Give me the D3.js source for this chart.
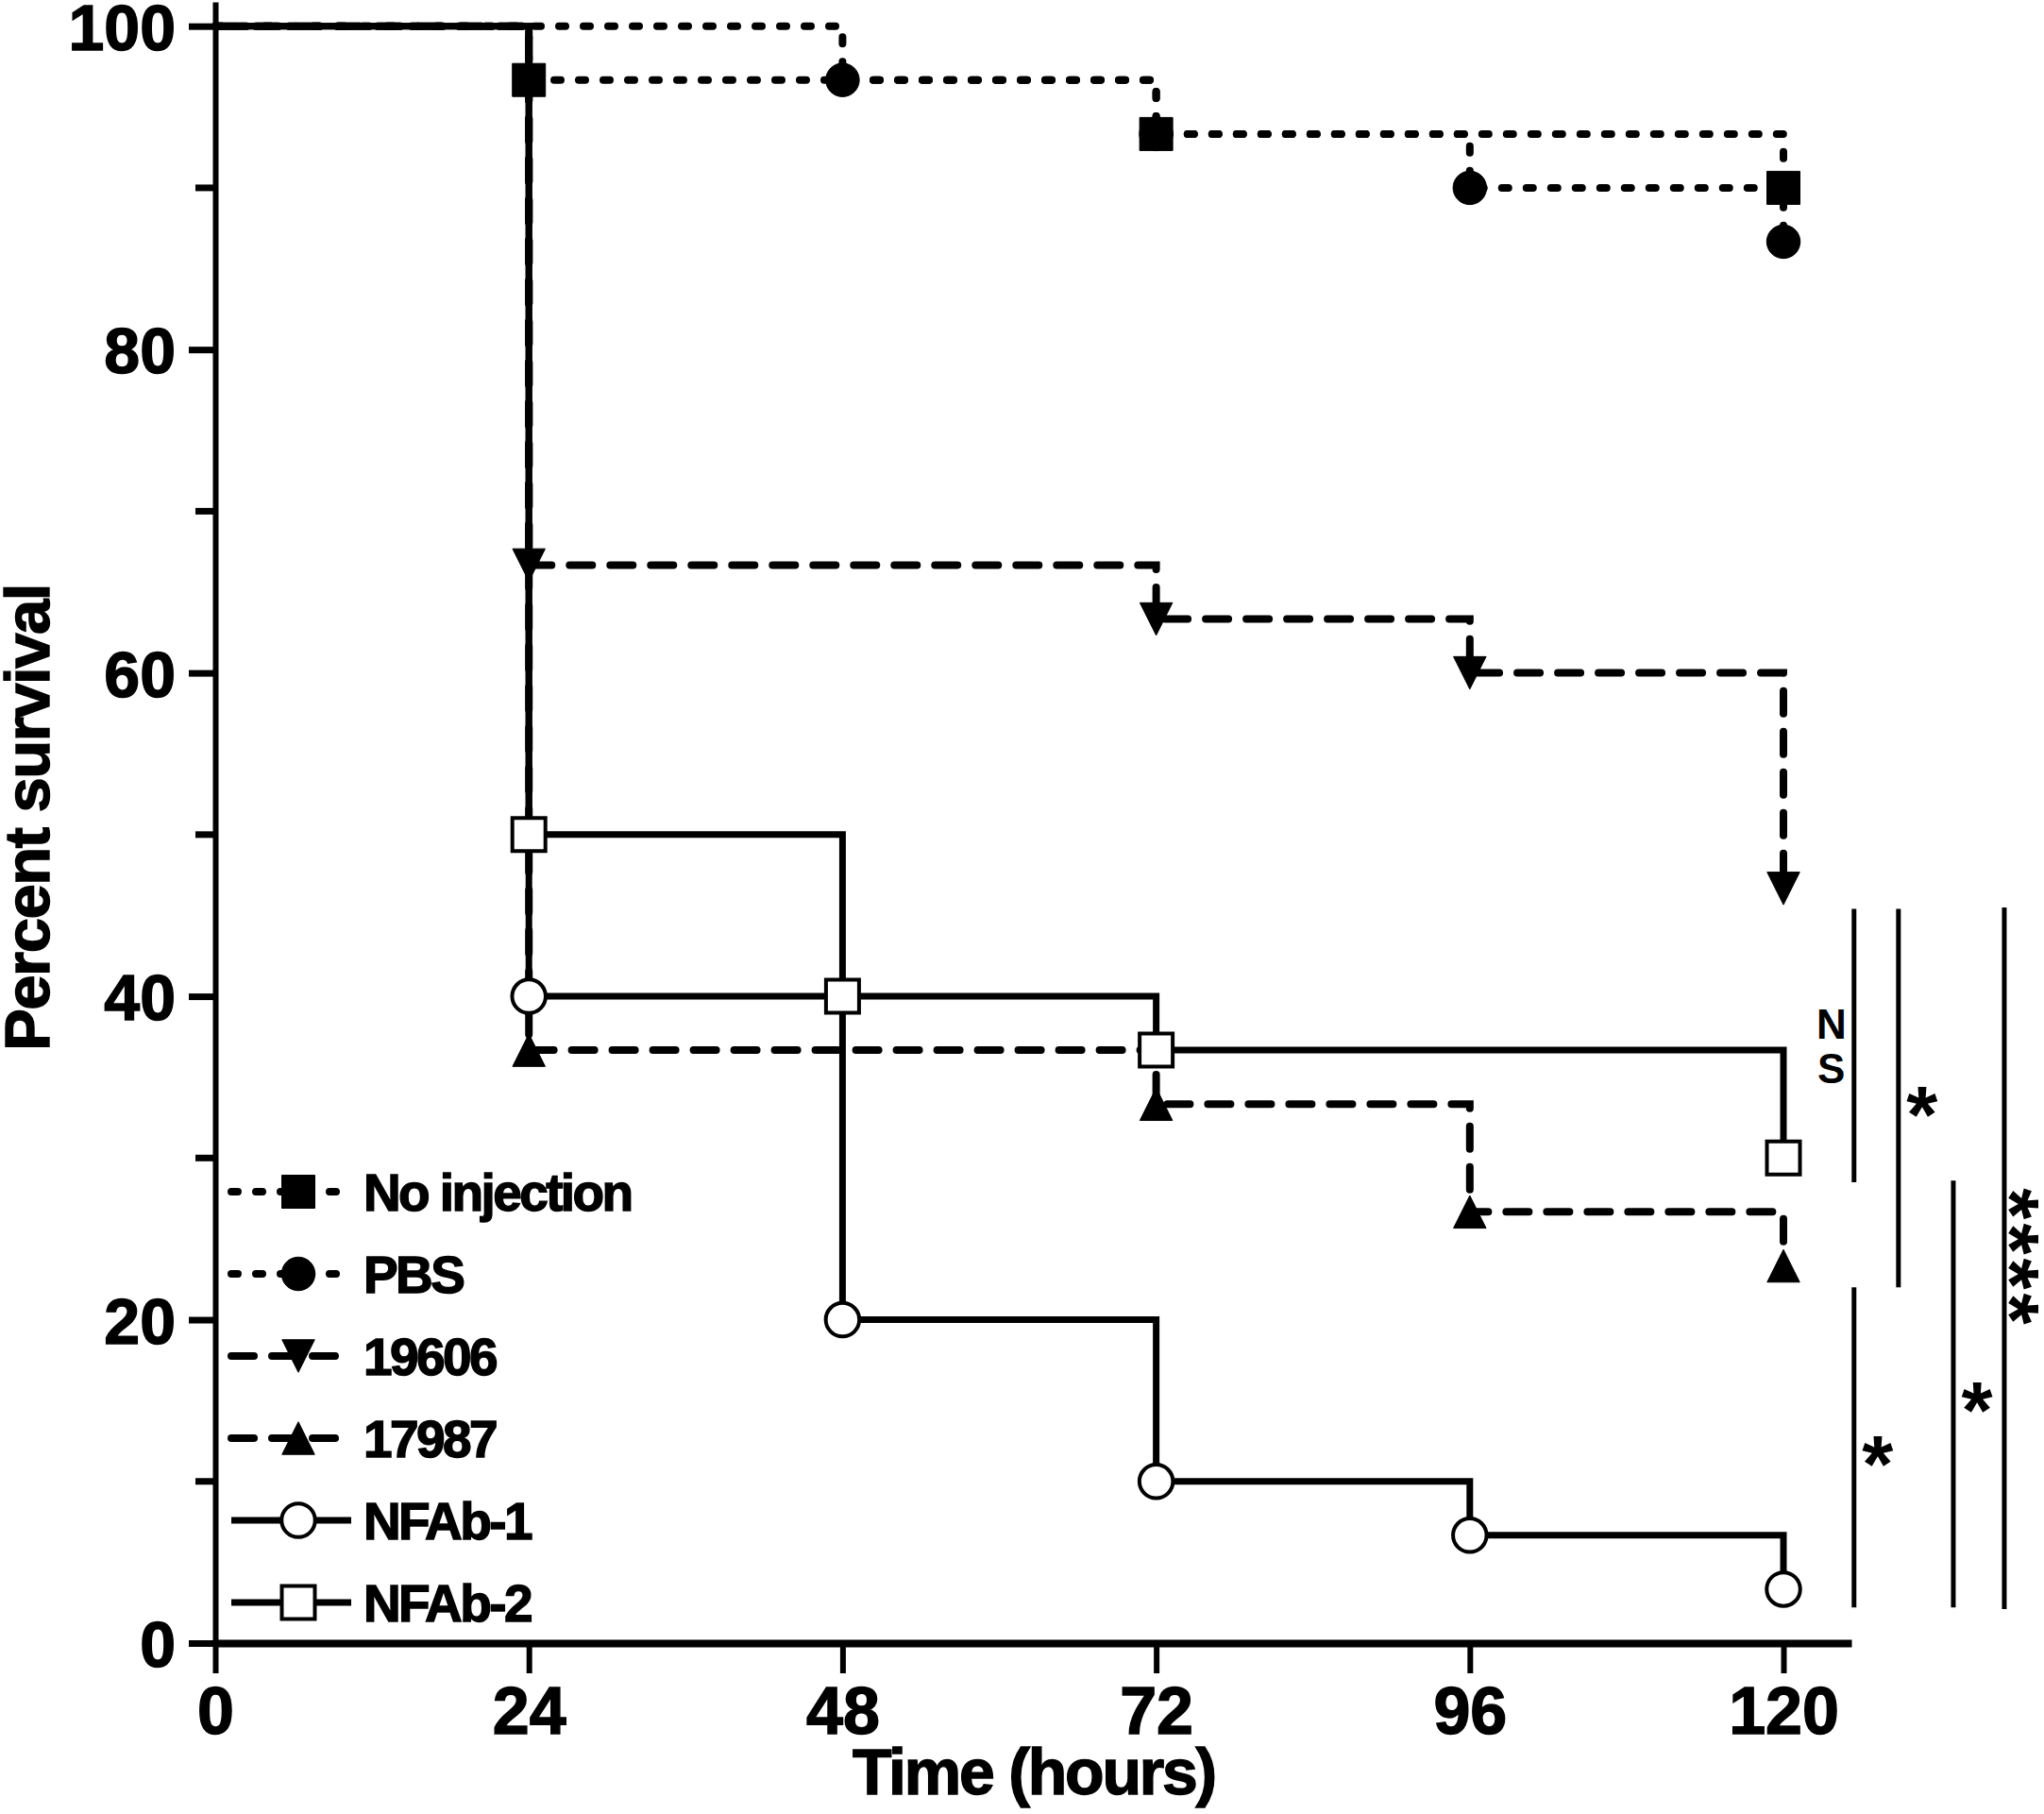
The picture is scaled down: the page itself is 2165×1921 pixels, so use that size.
<!DOCTYPE html>
<html>
<head>
<meta charset="utf-8">
<script src="https://cdn.jsdelivr.net/npm/d3@7"></script>
<style>
  body { margin: 0; background: #fff; }
  text { font-family: "Liberation Sans", Arial, sans-serif; fill: #000; }
  .heavy { stroke: #000; stroke-width: 1.4px; }
</style>
</head>
<body>
<div id="chart"></div>
<script>
// survival data (percent)
const groups = ["No injection", "PBS", "19606", "17987", "NFAb-1", "NFAb-2"];
const times = [0, 24, 48, 72, 96, 120];
const noInjection = [100, 96.67, 96.67, 93.33, 93.33, 90];
const pbs = [100, 100, 96.67, 93.33, 90, 86.67];
const s19606 = [100, 66.67, 66.67, 63.33, 60, 46.67];
const s17987 = [100, 36.67, 36.67, 33.33, 26.67, 23.33];
const nfab1 = [100, 40, 20, 10, 6.67, 3.33];
const nfab2 = [100, 50, 40, 36.67, 36.67, 30];

const xTicks = [0, 24, 48, 72, 96, 120];
const yTicks = [0, 20, 40, 60, 80, 100];
const yMinor = [10, 30, 50, 70, 90];

// significance brackets: time position (beyond 120 h), percent range, label
const brackets = [
    {t: 125.4, from: 28.5, to: 45.4, label: "NS"},
    {t: 128.8, from: 22.0, to: 45.4, label: "*"},
    {t: 125.4, from: 2.2, to: 22.0, label: "*"},
    {t: 133.0, from: 2.2, to: 28.6, label: "*"},
    {t: 136.9, from: 2.1, to: 45.5, label: "****"}
];

const values = [noInjection, pbs, s19606, s17987, nfab1, nfab2];
const lineStyle = ["dot", "dot", "dash", "dash", "solid", "solid"];
const markerShape = ["square", "circle", "down", "up", "circle", "square"];
const markerFilled = [true, true, true, true, false, false];

const W = 2165, H = 1921;
const svg = d3.select("#chart").append("svg")
    .attr("width", W).attr("height", H);
svg.append("rect").attr("width", W).attr("height", H).attr("fill", "#fff");

const x = d3.scaleLinear().domain([0, 125.2]).range([228, 1961]);
const y = d3.scaleLinear().domain([0, 101.5]).range([1740, 2]);

// custom triangle (box-centred) for d3.symbol
const triUp = { draw(ctx, size) {
    const s = Math.sqrt(size) / 2;
    ctx.moveTo(0, -s); ctx.lineTo(s, s); ctx.lineTo(-s, s); ctx.closePath();
}};
const triDown = { draw(ctx, size) {
    const s = Math.sqrt(size) / 2;
    ctx.moveTo(0, s); ctx.lineTo(s, -s); ctx.lineTo(-s, -s); ctx.closePath();
}};
function symbolPath(shape) {
    if (shape === "square") return d3.symbol(d3.symbolSquare, 1225)();
    if (shape === "circle") return d3.symbol(d3.symbolCircle, 990)();
    if (shape === "up") return d3.symbol(triUp, 1190)();
    return d3.symbol(triDown, 1190)();
}
function styleLine(sel, style) {
    sel.attr("fill", "none").attr("stroke", "#000");
    if (style === "dot") sel.attr("stroke-width", 8).attr("stroke-linecap", "round").attr("stroke-dasharray", "7,19");
    else if (style === "dash") sel.attr("stroke-width", 8).attr("stroke-linecap", "round").attr("stroke-dasharray", "24,19");
    else sel.attr("stroke-width", 7);
}

// axes
const yAxis = d3.axisLeft(y).tickValues(yTicks).tickSize(28).tickSizeOuter(0).tickPadding(14);
const gy = svg.append("g").attr("transform", `translate(${x(0)},0)`).call(yAxis);
gy.select(".domain").attr("stroke-width", 6);
gy.selectAll(".tick line").attr("stroke-width", 7);
gy.selectAll(".tick text")
    .attr("class", "heavy")
    .attr("font-size", 68).attr("font-weight", "bold")
    .attr("font-family", null).attr("dy", "0.36em");

svg.append("g").selectAll("line").data(yMinor).join("line")
    .attr("x1", x(0) - 21).attr("x2", x(0))
    .attr("y1", d => y(d)).attr("y2", d => y(d))
    .attr("stroke", "#000").attr("stroke-width", 7);

const xAxis = d3.axisBottom(x).tickValues(xTicks).tickSize(32).tickSizeOuter(0).tickPadding(14);
const gx = svg.append("g").attr("transform", `translate(0,${y(0)})`).call(xAxis);
gx.select(".domain").attr("stroke-width", 8);
gx.selectAll(".tick line").attr("stroke-width", 6);
gx.selectAll(".tick text")
    .attr("class", "heavy")
    .attr("font-size", 70).attr("font-weight", "bold")
    .attr("font-family", null).attr("dy", "0.71em");

// axis titles
svg.append("text")
    .attr("class", "heavy")
    .attr("x", 1095).attr("y", 1900)
    .attr("text-anchor", "middle")
    .attr("font-size", 68).attr("font-weight", "bold")
    .attr("letter-spacing", -2.2)
    .text("Time (hours)");

svg.append("text")
    .attr("class", "heavy")
    .attr("transform", "translate(52,866) rotate(-90)")
    .attr("text-anchor", "middle")
    .attr("font-size", 67).attr("font-weight", "bold")
    .attr("letter-spacing", -1.5)
    .text("Percent survival");

// survival curves: dotted, dashed, then solid on top
const line = d3.line()
    .x((d, i) => x(times[i]))
    .y(d => y(d))
    .curve(d3.curveStepAfter);

const order = [0, 1, 2, 3, 4, 5];
order.forEach(i => {
    svg.append("path").datum(values[i]).attr("d", line).call(styleLine, lineStyle[i]);
});

// markers at each step (drawn last series first so "No injection" sits on top)
order.slice().reverse().forEach(i => {
    const pts = [];
    values[i].forEach((v, k) => { if (k > 0 && v !== values[i][k - 1]) pts.push([times[k], v]); });
    svg.append("g").selectAll("path").data(pts).join("path")
        .attr("d", symbolPath(markerShape[i]))
        .attr("transform", d => `translate(${x(d[0])},${y(d[1])})`)
        .attr("fill", markerFilled[i] ? "#000" : "#fff")
        .attr("stroke", "#000")
        .attr("stroke-width", markerFilled[i] ? 1 : 4);
});

// legend
const legendY = d3.scalePoint().domain(groups).range([1262, 1697]);
groups.forEach((g, i) => {
    const ly = legendY(g);
    svg.append("line")
        .attr("x1", 245).attr("x2", 372).attr("y1", ly).attr("y2", ly)
        .call(styleLine, lineStyle[i]);
    svg.append("path")
        .attr("d", symbolPath(markerShape[i]))
        .attr("transform", `translate(316,${ly})`)
        .attr("fill", markerFilled[i] ? "#000" : "#fff")
        .attr("stroke", "#000")
        .attr("stroke-width", markerFilled[i] ? 1 : 4);
    svg.append("text")
        .attr("class", "heavy")
        .attr("x", 385).attr("y", ly + 20)
        .attr("font-size", 55).attr("font-weight", "bold")
        .attr("letter-spacing", -2.6)
        .text(g);
});

// significance brackets
brackets.forEach(b => {
    const bx = x(b.t), mid = (y(b.from) + y(b.to)) / 2;
    svg.append("line")
        .attr("x1", bx).attr("x2", bx)
        .attr("y1", y(b.to)).attr("y2", y(b.from))
        .attr("stroke", "#000").attr("stroke-width", 5);
    if (b.label === "NS") {
        ["N", "S"].forEach((c, k) => {
            svg.append("text")
                .attr("x", bx - 24).attr("y", mid - 7 + k * 47)
                .attr("text-anchor", "middle")
                .attr("font-size", 44).attr("font-weight", "bold")
                .text(c);
        });
    } else if (b.label.length > 1) {
        svg.append("text")
            .attr("transform", `translate(${bx + 24 - 0.555 * 85},${mid}) rotate(90)`)
            .attr("text-anchor", "middle")
            .attr("font-size", 85).attr("font-weight", "bold")
            .attr("letter-spacing", 4)
            .text(b.label);
    } else {
        svg.append("text")
            .attr("x", bx + 25).attr("y", mid + 0.555 * 85)
            .attr("text-anchor", "middle")
            .attr("font-size", 85).attr("font-weight", "bold")
            .text(b.label);
    }
});
</script>
</body>
</html>
